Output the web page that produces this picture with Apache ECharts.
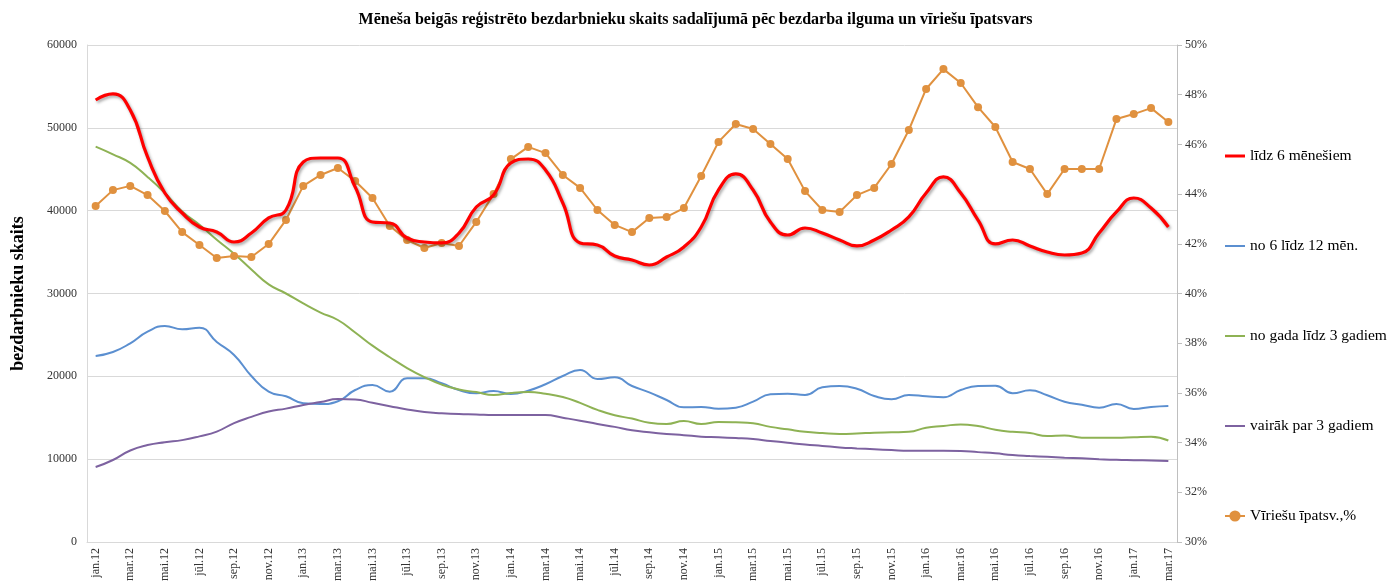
<!DOCTYPE html>
<html lang="lv">
<head>
<meta charset="UTF-8">
<title>Bezdarbnieki</title>
<script src="https://cdnjs.cloudflare.com/ajax/libs/echarts/6.0.0/echarts.min.js"></script>
<style>
  html, body { margin: 0; padding: 0; background: #fff; }
  #main { width: 1391px; height: 588px; }
</style>
</head>
<body>
<div id="main"></div>
<script>
// mēneši jan.12 .. mar.17
const monthNames = ['jan', 'feb', 'mar', 'apr', 'mai', 'jūn', 'jūl', 'aug', 'sep', 'okt', 'nov', 'dec'];
const months = [];
for (let y = 12; y <= 17; y++) {
    for (let m = 0; m < 12; m++) {
        if (y === 17 && m > 2) break;
        months.push(monthNames[m] + '.' + y);
    }
}

const upTo6 = [53360, 54090, 52150, 46480, 42130, 39720, 38030, 37430, 36220, 37300, 39120, 40080,
    45880, 46360, 46360, 42860, 38630, 38510, 36700, 36220, 36100, 37300, 40440, 41890,
    45760, 46240, 44910, 40930, 36100, 35860, 34530, 34050, 33440, 34410, 35620, 38030,
    42500, 44430, 42500, 38630, 37060, 37910, 37300, 36460, 35740, 36460, 37670, 39240,
    42130, 44070, 42130, 38870, 35980, 36460, 35740, 35010, 34650, 34890, 37300, 39840,
    41530, 40320, 38030];

const from6to12 = [22460, 22940, 23990, 25390, 26080, 25680, 25870, 24150, 22580, 20040, 18150, 17590,
    16750, 16660, 16990, 18350, 18950, 18150, 19760, 19760, 19160, 18350, 17950, 18230,
    17870, 18270, 19040, 20040, 20770, 19680, 19880, 18830, 18070, 17140, 16260, 16300,
    16090, 16220, 16940, 17830, 17910, 17750, 18670, 18830, 18510, 17630, 17230, 17750,
    17590, 17470, 18350, 18830, 18870, 17950, 18310, 17710, 16940, 16580, 16220, 16660,
    16060, 16300, 16420];

const from1to3y = [47730, 46800, 45760, 44070, 42130, 39900, 38300, 36500, 34800, 32900, 31100, 30000,
    28800, 27700, 26800, 25300, 23700, 22300, 21000, 19900, 19000, 18400, 18100, 17750,
    18000, 18100, 17900, 17500, 16800, 15950, 15300, 14900, 14400, 14250, 14600, 14250,
    14500, 14450, 14330, 13900, 13600, 13300, 13150, 13050, 13100, 13200, 13250, 13300,
    13800, 14000, 14200, 14000, 13550, 13300, 13150, 12800, 12850, 12600, 12600, 12600,
    12650, 12700, 12250];

const over3y = [9050, 9900, 11050, 11700, 12050, 12300, 12750, 13330, 14350, 15100, 15750, 16100,
    16550, 16900, 17250, 17200, 16800, 16400, 16000, 15700, 15550, 15450, 15400, 15320,
    15330, 15330, 15330, 15000, 14650, 14250, 13900, 13500, 13250, 13050, 12900, 12720,
    12650, 12550, 12420, 12200, 11980, 11770, 11600, 11420, 11300, 11200, 11100, 11020,
    11020, 11020, 11000, 10850, 10700, 10500, 10380, 10280, 10180, 10100, 10000, 9920,
    9880, 9840, 9780];

const menShare = [43.52, 44.16, 44.33, 43.96, 43.32, 42.47, 41.95, 41.43, 41.51, 41.47, 41.99, 42.96,
    44.33, 44.77, 45.05, 44.53, 43.84, 42.72, 42.15, 41.83, 42.03, 41.91, 42.88, 44.00,
    45.41, 45.90, 45.65, 44.77, 44.25, 43.36, 42.76, 42.47, 43.04, 43.08, 43.44, 44.73,
    46.10, 46.82, 46.62, 46.02, 45.41, 44.12, 43.36, 43.28, 43.96, 44.25, 45.21, 46.58,
    48.23, 49.03, 48.47, 47.50, 46.70, 45.29, 45.01, 44.00, 45.01, 45.01, 45.01, 47.02,
    47.22, 47.46, 46.90];

const serif = '"Liberation Serif", "DejaVu Serif", serif';
const chart = echarts.init(document.getElementById('main'));

// tikai līnija leģendā (bez apļa)
const lineIcon = 'path://M0,0 L20,0 L20,2 L0,2 Z';
const thickLineIcon = 'path://M0,0 L20,0 L20,3 L0,3 Z';

function thinLine(name, data, color) {
    return {
        name: name, type: 'line', data: data, smooth: true, symbol: 'none',
        lineStyle: { color: color, width: 2 }, itemStyle: { color: color }
    };
}

chart.setOption({
    animation: false,
    backgroundColor: '#fff',
    title: {
        text: 'Mēneša beigās reģistrēto bezdarbnieku skaits sadalījumā pēc bezdarba ilguma un vīriešu īpatsvars',
        left: 'center', top: 7,
        textStyle: { fontFamily: serif, fontSize: 16, fontWeight: 'bold', color: '#000' }
    },
    legend: {
        orient: 'vertical', left: 1219, top: 143, itemGap: 74,
        itemWidth: 20, itemHeight: 14,
        textStyle: { fontFamily: serif, fontSize: 15.5, color: '#000' },
        data: [
            { name: 'līdz 6 mēnešiem', icon: thickLineIcon },
            { name: 'no 6 līdz 12 mēn.', icon: lineIcon },
            { name: 'no gada līdz 3 gadiem', icon: lineIcon },
            { name: 'vairāk par 3 gadiem', icon: lineIcon },
            { name: 'Vīriešu īpatsv.,%' }
        ]
    },
    grid: { left: 87, right: 214, top: 45, bottom: 46 },
    xAxis: {
        type: 'category', data: months, boundaryGap: true,
        axisLine: { lineStyle: { color: '#d9d9d9' } },
        axisTick: { show: false },
        axisLabel: { interval: 1, rotate: 90, fontFamily: serif, fontSize: 12, color: '#333', margin: 6 }
    },
    yAxis: [{
        type: 'value', min: 0, max: 60000, interval: 10000,
        name: 'bezdarbnieku skaits', nameLocation: 'middle', nameGap: 60,
        nameTextStyle: { fontFamily: serif, fontSize: 18, fontWeight: 'bold', color: '#000' },
        axisLine: { show: true, lineStyle: { color: '#d9d9d9' } },
        axisTick: { show: false },
        axisLabel: { formatter: (v) => String(v), fontFamily: serif, fontSize: 12, color: '#333', margin: 10 },
        splitLine: { lineStyle: { color: '#d9d9d9', width: 1 } }
    }, {
        type: 'value', min: 30, max: 50, interval: 2,
        axisLine: { show: true, lineStyle: { color: '#bfbfbf' } },
        axisTick: { show: true, length: 5, lineStyle: { color: '#bfbfbf' } },
        axisLabel: { formatter: '{value}%', fontFamily: serif, fontSize: 12, color: '#333', margin: 8 },
        splitLine: { show: false }
    }],
    series: [{
        name: 'līdz 6 mēnešiem', type: 'line', data: upTo6, smooth: true, symbol: 'none',
        lineStyle: {
            color: '#ff0000', width: 3.2,
            shadowColor: 'rgba(0,0,0,0.35)', shadowBlur: 3, shadowOffsetX: 1.5, shadowOffsetY: 2
        },
        itemStyle: { color: '#ff0000' }, z: 5
    },
    thinLine('no 6 līdz 12 mēn.', from6to12, '#5b8fd0'),
    thinLine('no gada līdz 3 gadiem', from1to3y, '#8eb254'),
    thinLine('vairāk par 3 gadiem', over3y, '#7d62a0'),
    {
        name: 'Vīriešu īpatsv.,%', type: 'line', yAxisIndex: 1, data: menShare,
        symbol: 'circle', symbolSize: 8,
        lineStyle: { color: '#e0913f', width: 2 },
        itemStyle: { color: '#e0913f' }, z: 4
    }]
});
</script>
</body>
</html>
